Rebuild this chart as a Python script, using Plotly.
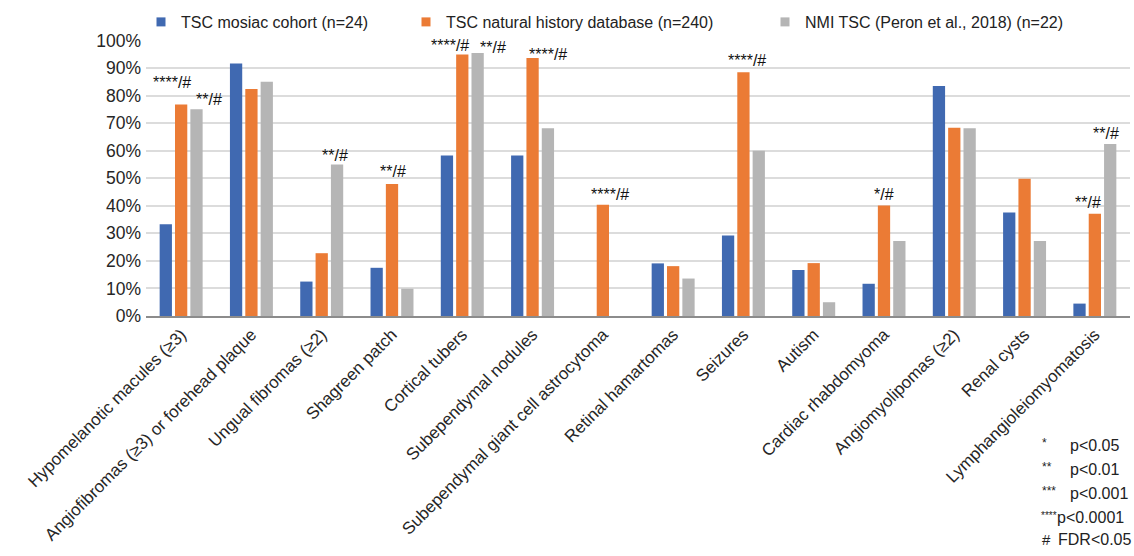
import plotly.graph_objects as go

categories = [
    "Hypomelanotic macules (≥3)",
    "Angiofibromas (≥3) or forehead plaque",
    "Ungual fibromas (≥2)",
    "Shagreen patch",
    "Cortical tubers",
    "Subependymal nodules",
    "Subependymal giant cell astrocytoma",
    "Retinal hamartomas",
    "Seizures",
    "Autism",
    "Cardiac rhabdomyoma",
    "Angiomyolipomas (≥2)",
    "Renal cysts",
    "Lymphangioleiomyomatosis",
]

series_names = [
    "TSC mosiac cohort (n=24)",
    "TSC natural history database (n=240)",
    "NMI TSC (Peron et al., 2018) (n=22)",
]

mosaic = [33.3, 91.7, 12.5, 17.5, 58.3, 58.3, 0, 19.1, 29.2, 16.7, 11.7, 83.5, 37.6, 4.5]
natural_history = [76.8, 82.4, 22.8, 47.9, 94.9, 93.7, 40.4, 18.1, 88.5, 19.2, 40.1, 68.3, 49.8, 37.1]
nmi_tsc = [75.1, 85.0, 55.0, 9.9, 95.5, 68.2, 0, 13.6, 60.0, 5.0, 27.2, 68.2, 27.2, 62.4]

y_ticks = [0, 10, 20, 30, 40, 50, 60, 70, 80, 90, 100]

# significance labels: (category index, series index, text, label level %, extra x shift px)
sig_labels = [
    (0, 1, "****/#", 84.8, -9),
    (0, 2, "**/#", 78.6, 13),
    (2, 2, "**/#", 58.3, -2),
    (3, 1, "**/#", 52.5, 1),
    (4, 1, "****/#", 98.2, -12),
    (4, 2, "**/#", 97.5, 15),
    (5, 1, "****/#", 94.9, 15),
    (6, 1, "****/#", 44.2, 7),
    (8, 1, "****/#", 92.8, 4),
    (10, 1, "*/#", 44.2, 0),
    (13, 1, "**/#", 41.3, -7),
    (13, 2, "**/#", 66.3, -4),
]

footnote_marks = ["*", "**", "***", "****", "#"]
footnote_texts = ["p<0.05", "p<0.01", "p<0.001", "p<0.0001", "FDR<0.05"]

colors = ["#4069B1", "#EB7B35", "#B5B5B5"]
values = [mosaic, natural_history, nmi_tsc]

W, H = 1134, 556
ML, MR, MT, MB = 146, 4, 40, 240
PW = W - ML - MR
PH = H - MT - MB
FONT = "Liberation Sans, Arial, Helvetica, sans-serif"
BARGAP = 0.345
BARGROUPGAP = 0.2

fig = go.Figure()
for s in range(3):
    fig.add_trace(go.Bar(
        x=categories, y=values[s], name=series_names[s],
        marker=dict(color=colors[s], line=dict(width=0)),
        showlegend=False, hoverinfo="x+y",
    ))
legend_ids = ["legend", "legend2", "legend3"]
for s in range(3):
    fig.add_trace(go.Scatter(
        x=[None], y=[None], mode="markers", name=series_names[s],
        marker=dict(symbol="square", size=9, color=colors[s]),
        legend=legend_ids[s], showlegend=True,
    ))

slot = (1 - BARGAP) / 3.0
annotations = []
for ci, si, txt, lvl, dx in sig_labels:
    annotations.append(dict(
        x=ci + (si - 1) * slot, y=lvl, xref="x", yref="y",
        text=txt, showarrow=False, xanchor="center", yanchor="middle",
        xshift=dx, font=dict(family=FONT, size=16, color="#111111"),
    ))

def px_to_paper_x(px):
    return (px - ML) / PW

def px_to_paper_y(py):
    return (H - MB - py) / PH

foot_y = [445, 469, 493, 517, 539]
foot_text_x = [1068, 1068, 1068, 1055, 1056]
foot_mark_x = [1040, 1040, 1040, 1039, 1040]
foot_mark_size = [12, 12, 12, 10, 15]
for i in range(5):
    annotations.append(dict(
        x=px_to_paper_x(foot_mark_x[i]), y=px_to_paper_y(foot_y[i] + (0 if i == 4 else -2)),
        xref="paper", yref="paper",
        text=footnote_marks[i], showarrow=False, xanchor="left", yanchor="middle",
        font=dict(family=FONT, size=foot_mark_size[i], color="#222222"),
    ))
    annotations.append(dict(
        x=px_to_paper_x(foot_text_x[i]), y=px_to_paper_y(foot_y[i]), xref="paper", yref="paper",
        text=footnote_texts[i], showarrow=False, xanchor="left", yanchor="middle",
        font=dict(family=FONT, size=16, color="#222222"),
    ))

legend_left_px = [141, 406, 765]
legend_common = dict(orientation="h", yanchor="middle", xanchor="left",
                     y=px_to_paper_y(22), font=dict(family=FONT, size=16, color="#222222"),
                     bgcolor="rgba(0,0,0,0)", borderwidth=0)

fig.update_layout(
    width=W, height=H,
    margin=dict(l=ML, r=MR, t=MT, b=MB, autoexpand=False),
    paper_bgcolor="white", plot_bgcolor="white",
    barmode="group", bargap=BARGAP, bargroupgap=BARGROUPGAP,
    font=dict(family=FONT, size=16, color="#222222"),
    legend=dict(x=px_to_paper_x(legend_left_px[0]), **legend_common),
    legend2=dict(x=px_to_paper_x(legend_left_px[1]), **legend_common),
    legend3=dict(x=px_to_paper_x(legend_left_px[2]), **legend_common),
    annotations=annotations,
    xaxis=dict(
        type="category", tickangle=-45, automargin=False,
        tickfont=dict(family=FONT, size=17, color="#262626"),
        showline=True, linecolor="#8C8C8C", linewidth=2,
        showgrid=False, ticks="",
    ),
    yaxis=dict(
        range=[0, 100.2], tickvals=y_ticks, ticktext=[f"{v}%" for v in y_ticks],
        automargin=False, showgrid=True, gridcolor="#DCDCDC", gridwidth=1.5,
        zeroline=False, ticks="", showline=False,
        tickfont=dict(family=FONT, size=17.5, color="#262626"),
        ticklabelstandoff=4,
    ),
)

fig.write_html(
    "out.html",
    config={"displayModeBar": False},
    post_script="document.body.style.margin='0';document.body.style.padding='0';document.body.style.overflow='hidden';",
)
